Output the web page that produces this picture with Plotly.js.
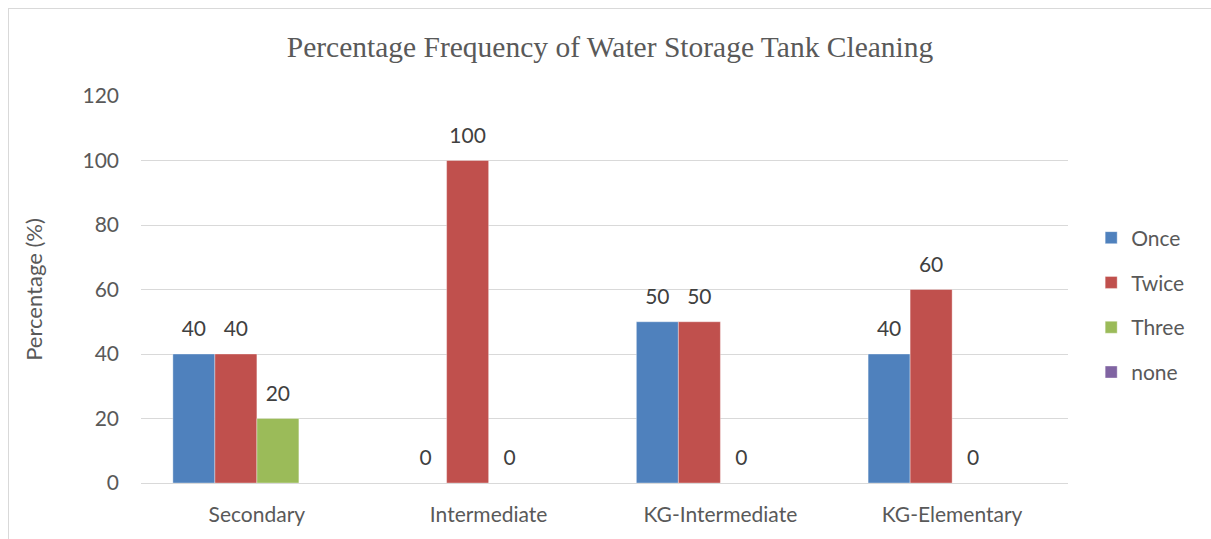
<!DOCTYPE html>
<html>
<head>
<meta charset="utf-8">
<script src="https://cdn.plot.ly/plotly-3.0.1.min.js"></script>
<style>
html,body{margin:0;padding:0;background:#fff;overflow:hidden;}
#frame{position:absolute;left:8px;top:8px;width:1400px;height:700px;border-left:1px solid #d9d9d9;border-top:1px solid #d9d9d9;pointer-events:none;}
#chart{position:absolute;left:0;top:0;width:1211px;height:539px;}
</style>
</head>
<body>
<div id="chart"></div>
<div id="frame"></div>
<script>
const categories = ["Secondary", "Intermediate", "KG-Intermediate", "KG-Elementary"];
const seriesNames = ["Once", "Twice", "Three", "none"];
const once = [40, 0, 50, 40];
const twice = [40, 100, 50, 60];
const three = [20, 0, 0, 0];
const none = [null, null, null, null];
const colors = ["#4f81bd", "#c0504d", "#9bbb59", "#8064a2"];
const yTicks = [0, 20, 40, 60, 80, 100, 120];

const FONT = "Lato, 'Open Sans', sans-serif";
const seriesValues = [once, twice, three, none];
const traces = seriesValues.map((vals, i) => ({
  type: "bar",
  name: seriesNames[i],
  x: categories,
  y: vals,
  text: vals.map(v => v === null ? "" : "<span style='font-size:21px'>" + String(v) + "</span><br>&nbsp;"),
  textposition: "outside",
  constraintext: "none",
  textfont: {family: FONT, size: 10, color: "#404040"},
  cliponaxis: false,
  marker: {color: colors[i], line: {width: 0.6, color: "rgba(255,255,255,0.6)"}},
  legendgroup: "g" + i,
  hoverinfo: "x+y+name"
}));

const layout = {
  width: 1211,
  height: 539,
  margin: {l: 141, r: 143, t: 96, b: 56},
  paper_bgcolor: "#ffffff",
  plot_bgcolor: "#ffffff",
  barmode: "group",
  bargap: 0.275,
  bargroupgap: 0,
  showlegend: true,
  title: {
    text: "Percentage Frequency of Water Storage Tank Cleaning",
    font: {family: "'Liberation Serif', 'Times New Roman', serif", size: 29.5, color: "#595959"},
    x: 0.506, xanchor: "center", xref: "paper",
    y: 0.913, yanchor: "middle", yref: "container"
  },
  xaxis: {
    type: "category",
    tickfont: {family: FONT, size: 21, color: "#595959"},
    showgrid: false,
    showline: true,
    linecolor: "#d9d9d9",
    linewidth: 1,
    ticks: "",
    ticklabelstandoff: 13,
    zeroline: false
  },
  yaxis: {
    range: [0, 120],
    tickvals: yTicks,
    ticktext: yTicks.map(String),
    tickfont: {family: FONT, size: 21, color: "#595959"},
    showgrid: true,
    gridcolor: "#d9d9d9",
    gridwidth: 1,
    zeroline: true,
    zerolinecolor: "#d9d9d9",
    zerolinewidth: 1,
    showline: false,
    ticks: "",
    ticklabelstandoff: 21,
    title: {
      text: "Percentage (%)",
      font: {family: FONT, size: 22, color: "#595959"},
      standoff: 33
    }
  },
  legend: {
    x: 1.025, xanchor: "left",
    y: 0.46, yanchor: "middle",
    font: {family: FONT, size: 21, color: "#595959"},
    traceorder: "grouped",
    tracegroupgap: 14.5,
    itemwidth: 30,
    bgcolor: "rgba(0,0,0,0)"
  }
};

Plotly.newPlot("chart", traces, layout, {displayModeBar: false, responsive: false});
</script>
</body>
</html>
